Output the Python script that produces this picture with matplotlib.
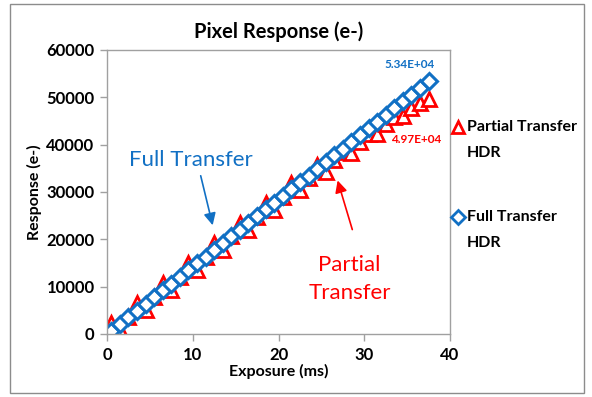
import matplotlib
matplotlib.use("Agg")
import matplotlib.pyplot as plt
from matplotlib.lines import Line2D
from matplotlib.patches import Rectangle

plt.rcParams['font.family'] = ['Lato', 'DejaVu Sans']

# exposure steps (ms)
exposure = [0.5, 1.5, 2.5, 3.5, 4.5, 5.5, 6.5, 7.5, 8.5, 9.5,
            10.5, 11.5, 12.5, 13.5, 14.5, 15.5, 16.5, 17.5, 18.5, 19.5,
            20.5, 21.5, 22.5, 23.5, 24.5, 25.5, 26.5, 27.5, 28.5, 29.5,
            30.5, 31.5, 32.5, 33.5, 34.5, 35.5, 36.5, 37.5]

full_hdr = [670, 2100, 3520, 4950, 6370, 7800, 9220, 10650, 12070, 13500,
            14920, 16350, 17770, 19200, 20620, 22050, 23470, 24900, 26320, 27750,
            29170, 30600, 32020, 33450, 34870, 36300, 37720, 39150, 40570, 42000,
            43420, 44850, 46270, 47700, 49120, 50550, 51970, 53400]

partial_hdr = [2270, 800, 3520, 6550, 5070, 7800, 10820, 9350, 12070, 15100,
               13620, 16350, 19270, 17800, 20620, 23550, 22070, 24800, 27720, 26250,
               28970, 31800, 30320, 32950, 35770, 34300, 36820, 38550, 38270, 40600,
               42220, 42250, 44370, 45800, 46120, 47750, 48870, 49700]

blue = '#1170C4'
red = '#FF0000'
grey = '#A0A0A0'

fig = plt.figure(figsize=(5.92, 3.97), dpi=100)
ax = fig.add_axes([107 / 592, 63 / 397, 343 / 592, 284 / 397])

ax.plot(exposure, partial_hdr, linestyle='none', marker='^', markersize=10,
        markerfacecolor='white', markeredgecolor=red, markeredgewidth=2)
ax.plot(exposure, full_hdr, linestyle='none', marker='D', markersize=8.3,
        markerfacecolor='white', markeredgecolor=blue, markeredgewidth=2.2)

ax.set_xlim(0, 40)
ax.set_ylim(0, 60000)
ax.set_xticks([0, 10, 20, 30, 40])
ax.set_yticks(range(0, 60001, 10000))
for s in ax.spines.values():
    s.set_color(grey)
    s.set_linewidth(1)
ax.tick_params(direction='out', length=5, width=1, color=grey, labelsize=12, pad=4)
for lab in ax.get_xticklabels() + ax.get_yticklabels():
    lab.set_fontweight('bold')

ax.set_title('Pixel Response (e-)', fontsize=14.5, fontweight='bold', pad=9)
ax.set_xlabel('Exposure (ms)', fontsize=11.5, fontweight='bold', labelpad=1)
ax.set_ylabel('Response (e-)', fontsize=11.5, fontweight='bold', labelpad=3)

# end-point value labels
ax.annotate('%.2E' % full_hdr[-1], (exposure[-1], full_hdr[-1]),
            xytext=(-14, 12), textcoords='offset points', ha='center', va='center',
            color=blue, fontsize=8.5, fontweight='bold')
ax.annotate('%.2E' % partial_hdr[-1], (exposure[-1], partial_hdr[-1]),
            xytext=(-9, -29), textcoords='offset points', ha='center', va='center',
            color=red, fontsize=8.5, fontweight='bold')

# callouts
ax.text(9.8, 36800, 'Full Transfer', color=blue, fontsize=16, ha='center', va='center')
ax.annotate('', xy=(12.4, 22400), xytext=(10.85, 34000),
            arrowprops=dict(arrowstyle='-|>', color=blue, lw=1.2, mutation_scale=18))
ax.text(28.3, 11600, 'Partial\nTransfer', color=red, fontsize=16, ha='center', va='center',
        linespacing=1.5)
ax.annotate('', xy=(26.8, 33000), xytext=(28.7, 21500),
            arrowprops=dict(arrowstyle='-|>', color=red, lw=1.2, mutation_scale=18))

# legend on the right
fig.add_artist(Line2D([458 / 592], [1 - 127 / 397], transform=fig.transFigure, marker='^',
                      markersize=9, markerfacecolor='white', markeredgecolor=red,
                      markeredgewidth=2, linestyle='none'))
fig.add_artist(Line2D([458 / 592], [1 - 217 / 397], transform=fig.transFigure, marker='D',
                      markersize=7, markerfacecolor='white', markeredgecolor=blue,
                      markeredgewidth=2, linestyle='none'))
fig.text(467 / 592, 1 - 127 / 397, 'Partial Transfer', fontsize=11.5, fontweight='bold', va='center')
fig.text(467 / 592, 1 - 153 / 397, 'HDR', fontsize=11.5, fontweight='bold', va='center')
fig.text(467 / 592, 1 - 217 / 397, 'Full Transfer', fontsize=11.5, fontweight='bold', va='center')
fig.text(467 / 592, 1 - 243 / 397, 'HDR', fontsize=11.5, fontweight='bold', va='center')

# chart border
fig.patches.append(Rectangle((10 / 592, 4 / 397), 574 / 592, 389 / 397, transform=fig.transFigure,
                             fill=False, edgecolor='#8C8C8C', linewidth=1))

fig.savefig('out.png', dpi=100)
